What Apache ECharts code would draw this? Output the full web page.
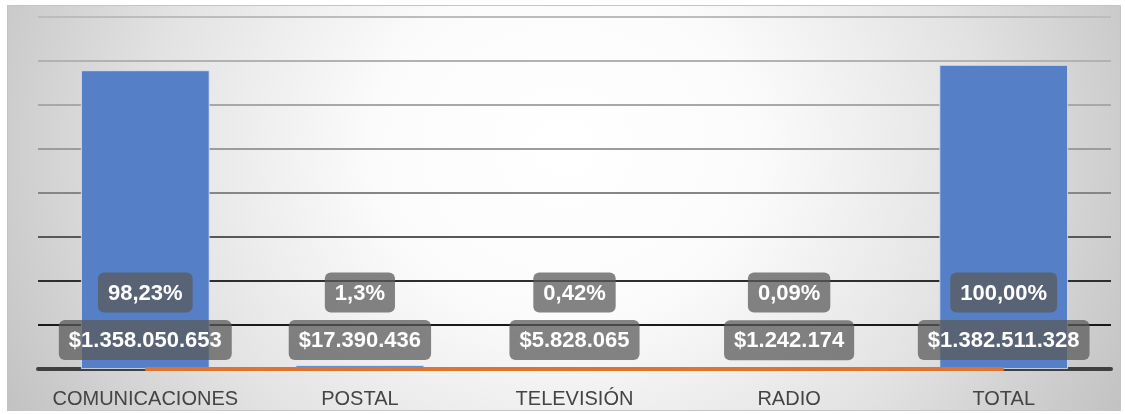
<!DOCTYPE html>
<html>
<head>
<meta charset="utf-8">
<script src="https://cdn.jsdelivr.net/npm/echarts@6/dist/echarts.min.js"></script>
<style>
  html, body { margin: 0; padding: 0; background: #ffffff; }
  #frame {
    position: absolute; left: 7px; top: 5px; width: 1112px; height: 404px;
    border: 1px solid #c4c4c4;
    background: radial-gradient(ellipse 58% 140% at 50% 35%, #ffffff 0%, #fbfbfb 30%, #e2e2e2 65%, #c0c0c0 100%);
  }
  #chart { position: absolute; left: 0; top: 0; width: 1125px; height: 414px; }
</style>
</head>
<body>
<div id="frame"></div>
<div id="chart"></div>
<script>
// ---- data ----
var categories = ['COMUNICACIONES', 'POSTAL', 'TELEVISIÓN', 'RADIO', 'TOTAL'];
var amounts = [1358050653, 17390436, 5828065, 1242174, 1382511328];
var shares = [98.23, 1.3, 0.42, 0.09, 100.00];
var shareLabels = ['98,23%', '1,3%', '0,42%', '0,09%', '100,00%'];
var yMax = 1600000000;
var yInterval = 200000000;

function money(v) {
  return '$' + String(v).replace(/\B(?=(\d{3})+(?!\d))/g, '.');
}

var labelBox = {
  color: '#ffffff',
  fontFamily: 'Liberation Sans, Arial, sans-serif',
  fontWeight: 'bold',
  fontSize: 22,
  backgroundColor: 'rgba(89,89,89,0.74)',
  borderRadius: 6,
  padding: [10, 10, 8, 10]
};

var chart = echarts.init(document.getElementById('chart'), null, { renderer: 'canvas' });
chart.setOption({
  animation: false,
  backgroundColor: 'transparent',
  grid: { left: 38, right: 14, top: 17, bottom: 45, containLabel: false },
  xAxis: {
    type: 'category',
    data: categories,
    axisTick: { show: false },
    axisLine: { show: true, lineStyle: { color: '#404040', width: 4 } },
    axisLabel: {
      color: '#444444',
      fontFamily: 'Liberation Sans, Arial, sans-serif',
      fontSize: 20,
      margin: 20,
      interval: 0
    }
  },
  yAxis: {
    type: 'value',
    min: 0,
    max: yMax,
    interval: yInterval,
    axisLabel: { show: false },
    axisLine: { show: false },
    axisTick: { show: false },
    splitLine: {
      show: true,
      lineStyle: {
        width: 2,
        color: ['#404040', '#1a1a1a', '#2e2e2e', '#585858', '#868686', '#9c9c9c', '#a8a8a8', '#b2b2b2', '#bcbcbc']
      }
    }
  },
  series: [
    {
      type: 'bar',
      data: amounts,
      barCategoryGap: '40%',
      itemStyle: { color: '#5580c8', borderColor: 'rgba(220,230,245,0.8)', borderWidth: 1 },
      label: Object.assign({
        show: true,
        position: 'insideBottom',
        distance: 9,
        formatter: function (p) { return money(p.value); }
      }, labelBox),
      z: 2
    },
    {
      type: 'line',
      data: shares.map(function (s) { return s / 100; }),
      symbol: 'circle',
      symbolSize: 1,
      itemStyle: { color: '#dd7431' },
      lineStyle: { color: '#dd7431', width: 4 },
      label: Object.assign({
        show: true,
        position: 'top',
        distance: 56,
        formatter: function (p) { return shareLabels[p.dataIndex]; }
      }, labelBox),
      z: 3
    }
  ]
});
</script>
</body>
</html>
